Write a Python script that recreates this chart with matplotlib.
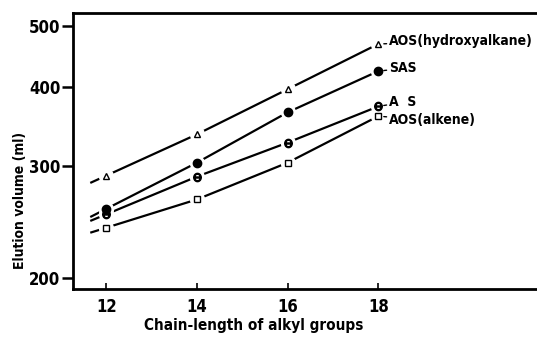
import numpy as np
import matplotlib
matplotlib.use("Agg")
import matplotlib.pyplot as plt
from matplotlib.ticker import FixedLocator, NullLocator

# data
chain = [12, 14, 16, 18]
aos_hydroxy = [290, 337, 397, 468]
sas = [257, 304, 365, 424]
as_ = [252, 289, 327, 373]
aos_alkene = [240, 266, 304, 360]

series_names = ["AOS(hydroxyalkane)", "SAS", "A  S", "AOS(alkene)"]
series_vals = [aos_hydroxy, sas, as_, aos_alkene]
markers = ["^", "o", "$\\ominus$", "s"]
filled = [False, True, False, False]
label_offsets = [(8, 2), (8, 2), (8, 3), (8, -3)]
lead_x = 11.65

plt.rcParams["font.family"] = ["DejaVu Sans"]
plt.rcParams["font.stretch"] = "condensed"

fig = plt.figure(figsize=(5.37, 3.39), dpi=100)
ax = fig.add_axes([0.136, 0.147, 0.864, 0.815])
ax.set_yscale("log")

for name, vals, m, f, off in zip(series_names, series_vals, markers, filled, label_offsets):
    v = np.array(vals, dtype=float)
    # short lead-in segment before first point (as in the original drawing)
    slope = (np.log(v[1]) - np.log(v[0])) / (chain[1] - chain[0])
    y0 = np.exp(np.log(v[0]) - slope * (chain[0] - lead_x))
    xs = [lead_x] + chain
    ys = [y0] + list(v)
    ax.plot(xs, ys, color="black", lw=1.6, solid_capstyle="butt", zorder=2)
    # white masks to leave gaps around the symbols
    ax.plot(chain, v, ls="none", marker="o", ms=10, mfc="white", mec="white", zorder=3)
    if m.startswith("$"):
        ax.plot(chain, v, ls="none", marker=m, ms=6, color="black", zorder=4)
    else:
        ax.plot(chain, v, ls="none", marker=m, ms=4.5 if not f else 6,
                mfc="black" if f else "white", mec="black", mew=1.0, zorder=4)
    ax.annotate(name, xy=(chain[-1], v[-1]), xytext=off, textcoords="offset points",
                fontsize=10, fontweight="bold", va="center", ha="left",
                arrowprops=dict(arrowstyle="-", lw=1.0, color="black", shrinkA=0, shrinkB=4))

ax.set_xlim(11.27, 21.5)
ax.set_ylim(192, 524)

ax.xaxis.set_major_locator(FixedLocator(chain))
ax.set_xticklabels([str(c) for c in chain])
ax.yaxis.set_major_locator(FixedLocator([200, 300, 400, 500]))
ax.yaxis.set_minor_locator(NullLocator())
ax.set_yticklabels(["200", "300", "400", "500"])

ax.tick_params(axis="x", direction="in", length=4, width=1.2, labelsize=12, pad=6)
ax.tick_params(axis="y", direction="out", length=8, width=1.8, labelsize=12, pad=1)
for lab in ax.get_xticklabels() + ax.get_yticklabels():
    lab.set_fontweight("bold")

ax.spines["right"].set_visible(False)
for s in ["left", "bottom", "top"]:
    ax.spines[s].set_linewidth(2.0)

ax.set_xlabel("Chain-length of alkyl groups", fontsize=11, fontweight="bold")
ax.set_ylabel("Elution volume (ml)", fontsize=10, fontweight="bold")
ax.xaxis.set_label_coords(0.39, -0.105)
ax.yaxis.set_label_coords(-0.099, 0.32)

fig.savefig("out.png", dpi=100)
